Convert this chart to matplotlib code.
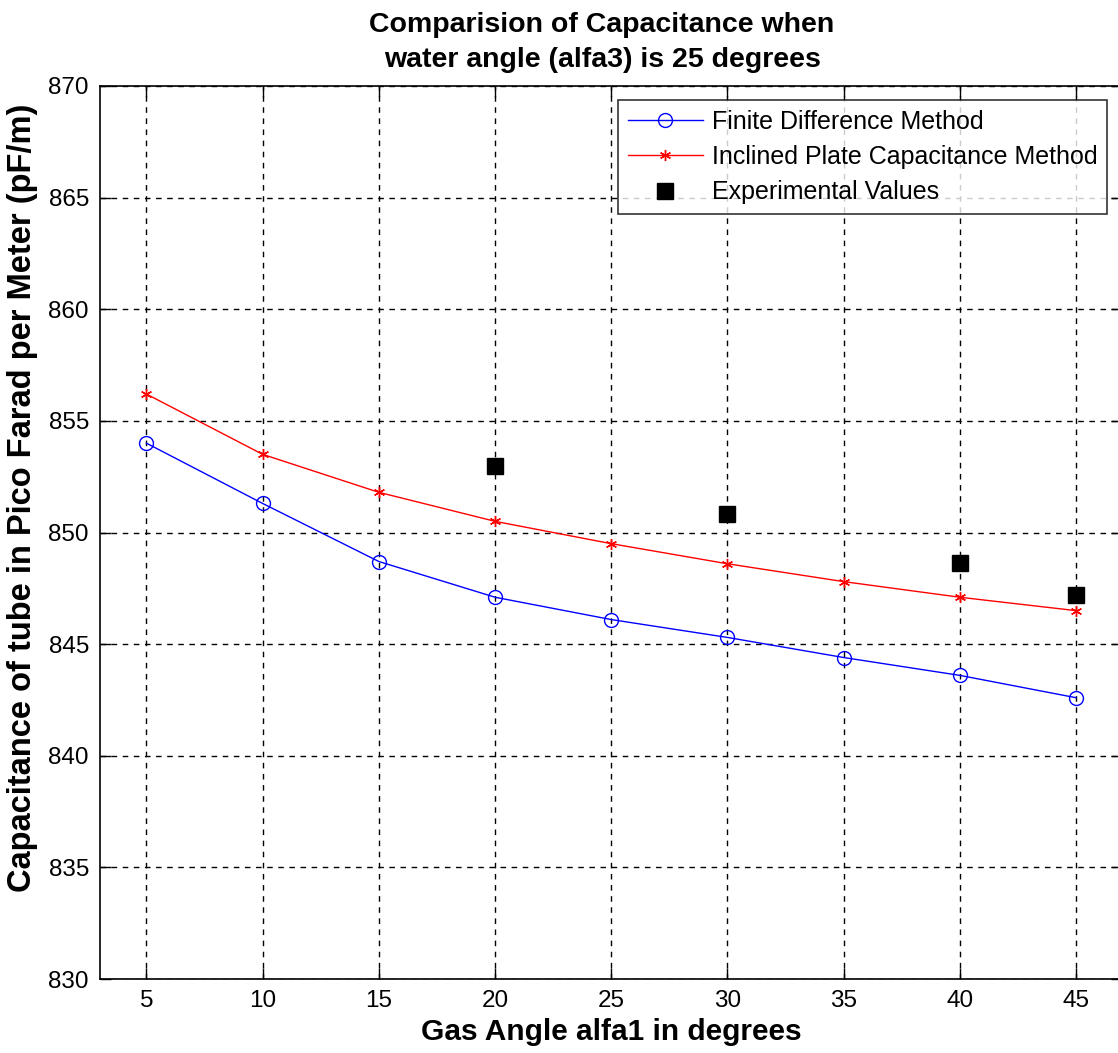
import matplotlib
matplotlib.use("Agg")
import matplotlib.pyplot as plt

# Gas angle alfa1 (degrees)
gas_angle = [5, 10, 15, 20, 25, 30, 35, 40, 45]

# Capacitance (pF/m), water angle alfa3 = 25 degrees
fdm = [854.0, 851.3, 848.7, 847.1, 846.1, 845.3, 844.4, 843.6, 842.6]
ipcm = [856.2, 853.5, 851.8, 850.5, 849.5, 848.6, 847.8, 847.1, 846.5]

exp_angle = [20, 30, 40, 45]
exp_values = [853.0, 850.85, 848.65, 847.2]

xticks = [5, 10, 15, 20, 25, 30, 35, 40, 45]
yticks = [830, 835, 840, 845, 850, 855, 860, 865, 870]

plt.rcParams['font.family'] = ['Liberation Sans', 'DejaVu Sans']

fig = plt.figure(figsize=(11.18, 10.53), dpi=100)
ax = fig.add_axes([100 / 1118, 1 - 979 / 1053, (1122.5 - 100) / 1118, (979 - 86) / 1053])

ax.plot(gas_angle, fdm, color='blue', lw=1.0, marker='o', markersize=10,
        markerfacecolor='none', markeredgecolor='blue', markeredgewidth=1.0,
        label='Finite Difference Method')
ax.plot(gas_angle, ipcm, color='red', lw=1.0, marker=(6, 2, 0), markersize=8,
        markeredgecolor='red', markeredgewidth=1.0,
        label='Inclined Plate Capacitance Method')
ax.plot(exp_angle, exp_values, linestyle='none', marker='s', markersize=11,
        color='black', label='Experimental Values')

ax.set_xlim(3, 47)
ax.set_ylim(830, 870)
ax.set_xticks(xticks)
ax.set_yticks(yticks)
ax.grid(True, color='black', linestyle=(0, (4, 4)), linewidth=1.0)
ax.tick_params(direction='in', length=8, width=1.0, top=True, right=True,
               labelsize=17.5, pad=8)
for s in ax.spines.values():
    s.set_linewidth(1.2)

ax.set_xlabel('Gas Angle alfa1 in degrees', fontsize=21.5, fontweight='bold', labelpad=4)
ax.set_ylabel('Capacitance of tube in Pico Farad per Meter (pF/m)', fontsize=23.5,
              fontweight='bold')
ax.yaxis.set_label_coords(-0.0606, 0.5386)
ax.set_title('Comparision of Capacitance when\nwater angle (alfa3) is 25 degrees',
             fontsize=20.5, fontweight='bold', pad=14, linespacing=1.45, x=0.491)

leg = ax.legend(loc='upper left', bbox_to_anchor=((618 - 100) / 1022.5, 1 - (100 - 86) / 893),
                fontsize=18, frameon=True, fancybox=False, edgecolor='black',
                handlelength=3.0, handletextpad=0.35, borderpad=0.4, labelspacing=0.45,
                borderaxespad=0, numpoints=1)
leg.get_frame().set_linewidth(1.2)

fig.savefig('out.png', dpi=100, facecolor='white')
